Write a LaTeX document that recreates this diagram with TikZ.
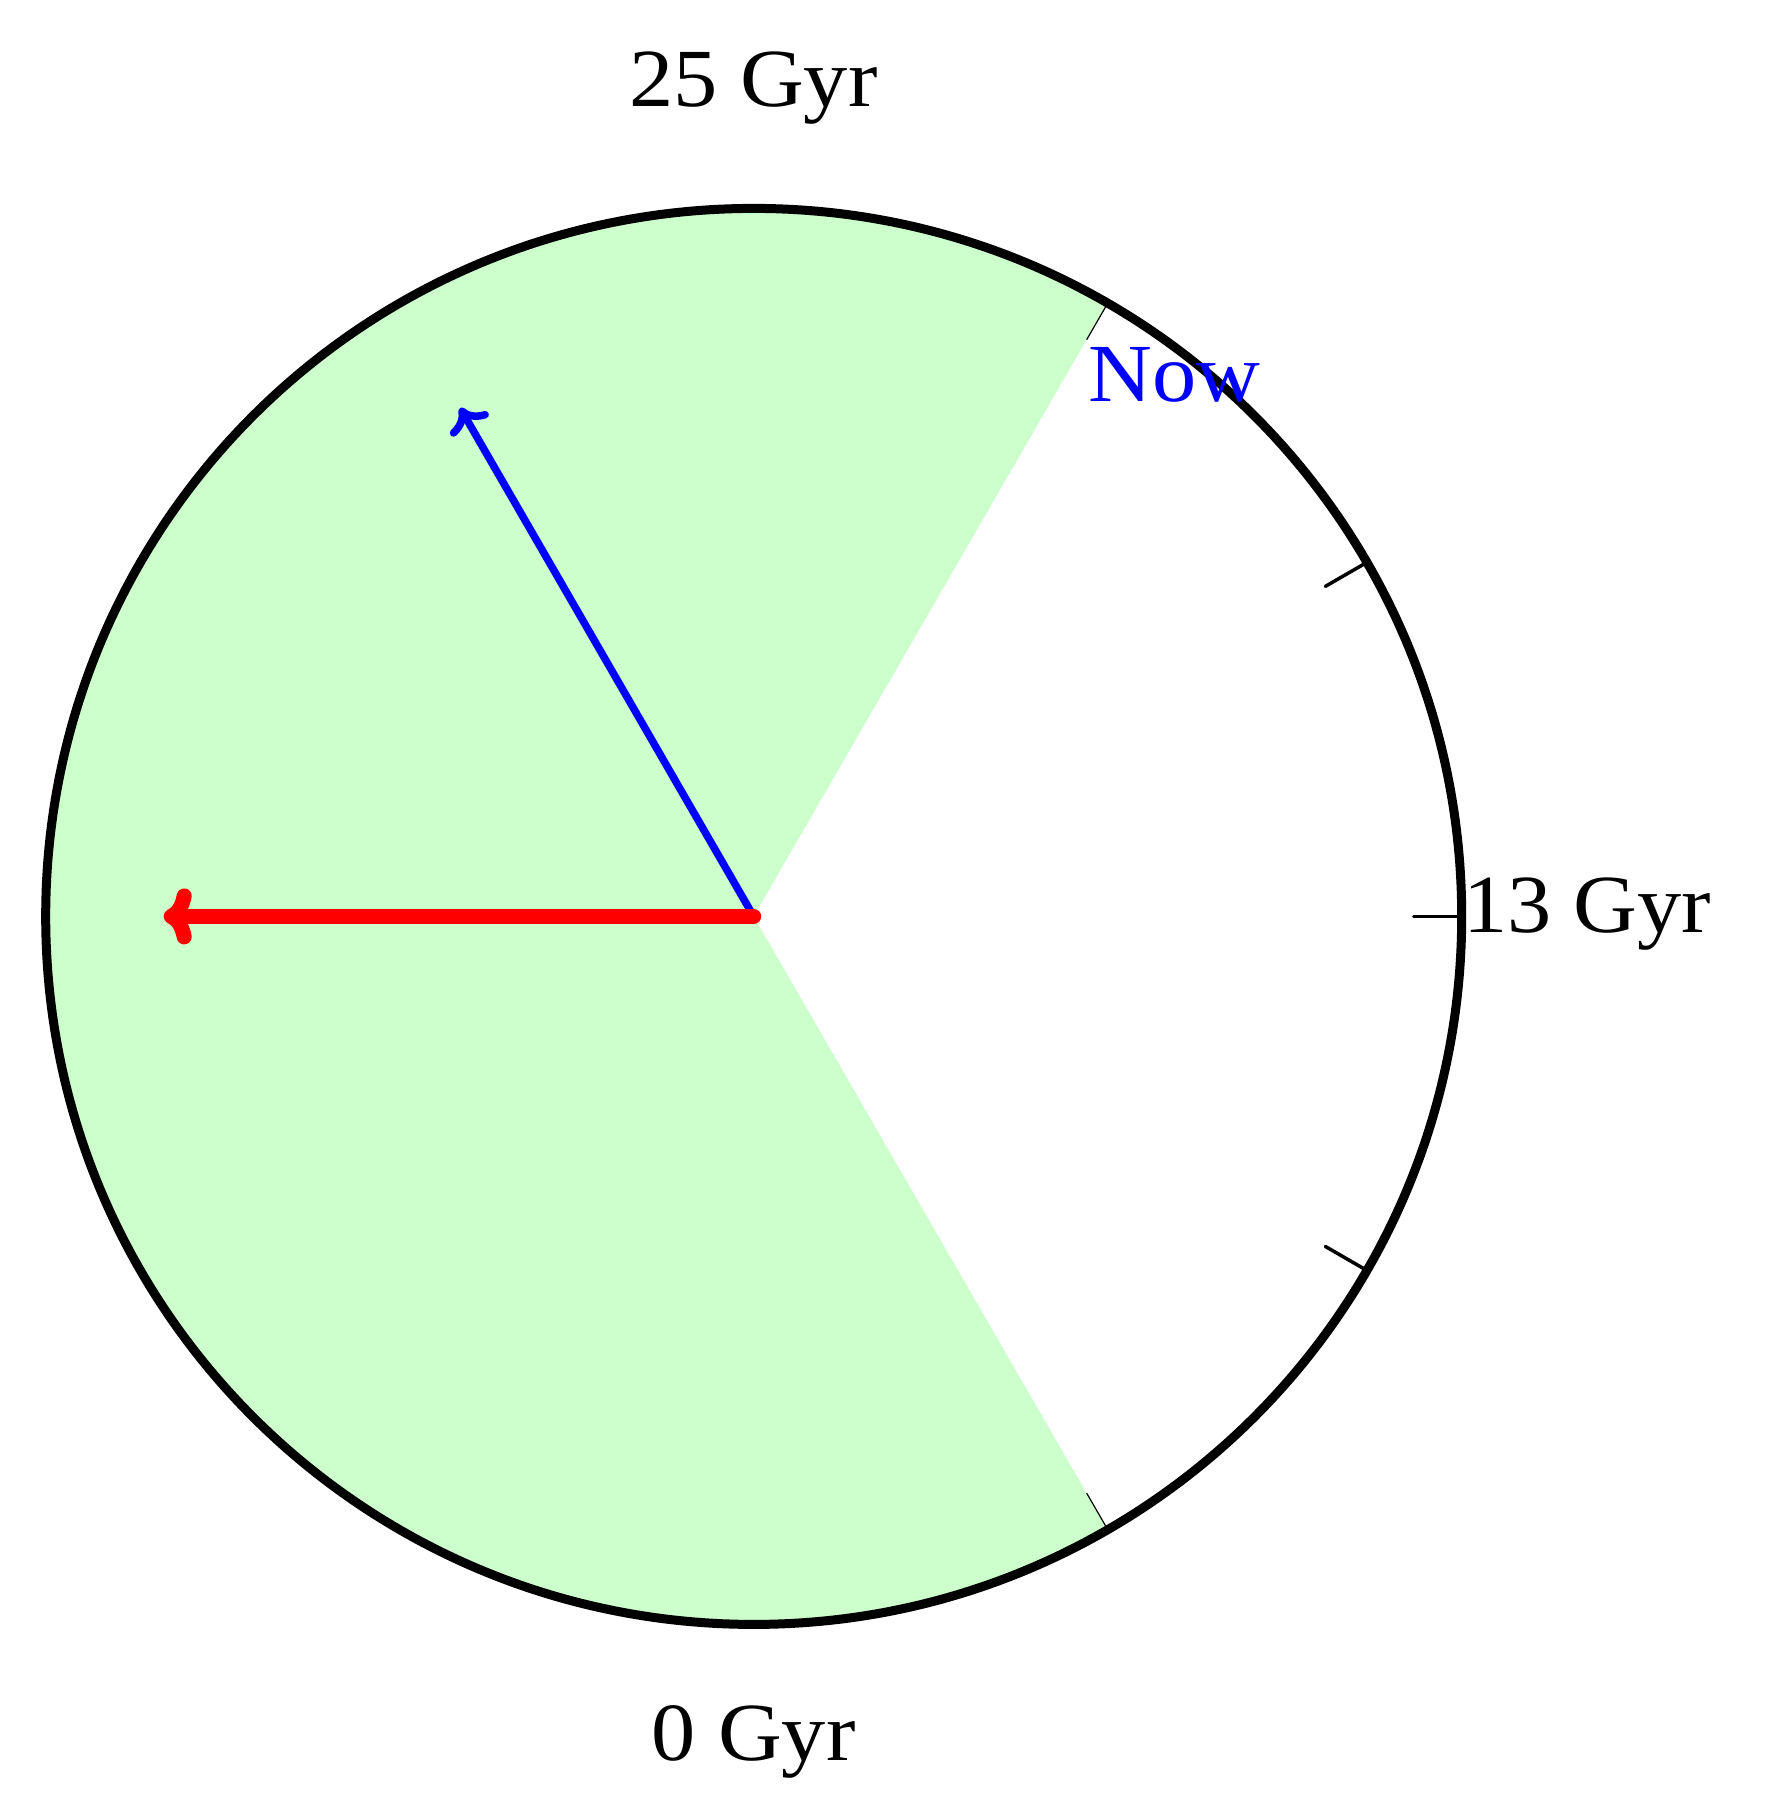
\documentclass[tikz,border=0pt]{standalone}
\usepackage{fontspec}
\setmainfont[FakeStretch=1.07]{Liberation Serif}
\usetikzlibrary{arrows.meta,calc}
\definecolor{sectorgreen}{HTML}{CCFFCC}
\tikzset{
  lbl/.style={inner sep=0pt, font=\fontsize{23.5}{28}\selectfont},
  rim/.style={line width=0.09cm},
  bigtick/.style={line width=0.035cm, line cap=round},
  thintick/.style={line width=0.012cm},
  bluearrow/.style={blue, line width=0.075cm, line cap=round, -{To[length=2.2mm,width=4.4mm,round]}},
  redarrow/.style={red, line width=0.15cm, line cap=round, -{To[length=2.8mm,width=5.6mm,round]}}
}
\begin{document}
\begin{tikzpicture}
\useasboundingbox (0,0) rectangle (17.74,-18.18);
\coordinate (C) at (7.537,-9.164);
\def\R{7.08}
% green sector
\fill[sectorgreen] (C) -- ++(60:\R) arc[start angle=60, end angle=300, radius=\R] -- cycle;
% thin ticks at 60 and -60
\draw[thintick] ($(C)+(60:\R)$) -- ($(C)+(60:\R-0.42)$);
\draw[thintick] ($(C)+(-60:\R)$) -- ($(C)+(-60:\R-0.42)$);
% ticks
\foreach \a in {30,0,-30} {
  \draw[bigtick] ($(C)+(\a:\R)$) -- ($(C)+(\a:\R-0.48)$);
}
% rim
\draw[rim] (C) circle[radius=\R];
% arrows
\coordinate (B) at ($(C)+(120:5.87)$);
\coordinate (Rd) at ($(C)+(180:5.9)$);
\draw[bluearrow] (C) -- (B);
\draw[redarrow] (C) -- (Rd);
% labels
\node[lbl, anchor=base] (top) at (7.537,-1.06) {25 Gyr};
\node[lbl, anchor=base] (bot) at (7.537,-17.60) {0 Gyr};
\node[lbl, anchor=west] (right) at ($(C)+(0:\R)+(0.01,0.02)$) {13 Gyr};
\node[lbl, anchor=base west, text=blue] (now) at (10.88,-4.01) {Now};
\end{tikzpicture}
\end{document}
